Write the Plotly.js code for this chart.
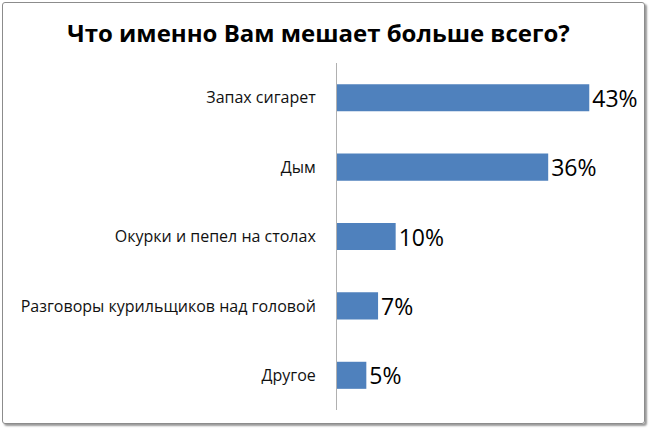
<!DOCTYPE html>
<html>
<head>
<meta charset="utf-8">
<script src="https://cdn.plot.ly/plotly-3.0.1.min.js"></script>
<style>
  html, body { margin: 0; padding: 0; background: #fff; }
  #wrap { position: relative; width: 650px; height: 429px; }
  #frame {
    position: absolute; left: 2px; top: 2px; width: 641px; height: 420px;
    border: 1px solid #8c8c8c; border-radius: 3px;
    box-shadow: 2px 2px 2px #9a9a9a; pointer-events: none;
  }
  #chart { position: absolute; left: 0; top: 0; width: 650px; height: 429px; }
</style>
</head>
<body>
<div id="wrap">
  <div id="chart"></div>
  <div id="frame"></div>
</div>
<script>
// categories listed bottom to top so the first reads at the top
const categories = ['Другое', 'Разговоры курильщиков над головой', 'Окурки и пепел на столах', 'Дым', 'Запах сигарет']
const shares = [5, 7, 10, 36, 43]

const trace = {
    type: 'bar',
    orientation: 'h',
    y: categories,
    x: shares,
    width: 0.39,
    marker: { color: '#4f81bd' },
    text: shares.map(v => v + '%'),
    textposition: 'outside',
    constraintext: 'none',
    cliponaxis: false,
    textfont: { family: 'Open Sans, sans-serif', size: 23, color: '#000' },
    hoverinfo: 'none'
}

const layout = {
    width: 650,
    height: 429,
    margin: { l: 337, r: 49, t: 63, b: 19 },
    paper_bgcolor: '#fff',
    plot_bgcolor: '#fff',
    showlegend: false,
    title: {
        text: '<b>Что именно Вам мешает больше всего?</b>',
        font: { family: 'Open Sans, sans-serif', size: 24, color: '#000' },
        x: 0.49, xanchor: 'center', y: 0.922, yanchor: 'middle'
    },
    xaxis: {
        range: [0, 45],
        showgrid: false, zeroline: false, showticklabels: false, showline: false,
        fixedrange: true
    },
    yaxis: {
        showgrid: false, zeroline: false,
        showline: true, linecolor: '#b0b0b0', linewidth: 1,
        ticks: '', ticklabelstandoff: 17,
        tickfont: { family: 'Open Sans, sans-serif', size: 16, color: '#111' },
        fixedrange: true
    }
}

Plotly.newPlot('chart', [trace], layout, { displayModeBar: false, staticPlot: true })
</script>
</body>
</html>
